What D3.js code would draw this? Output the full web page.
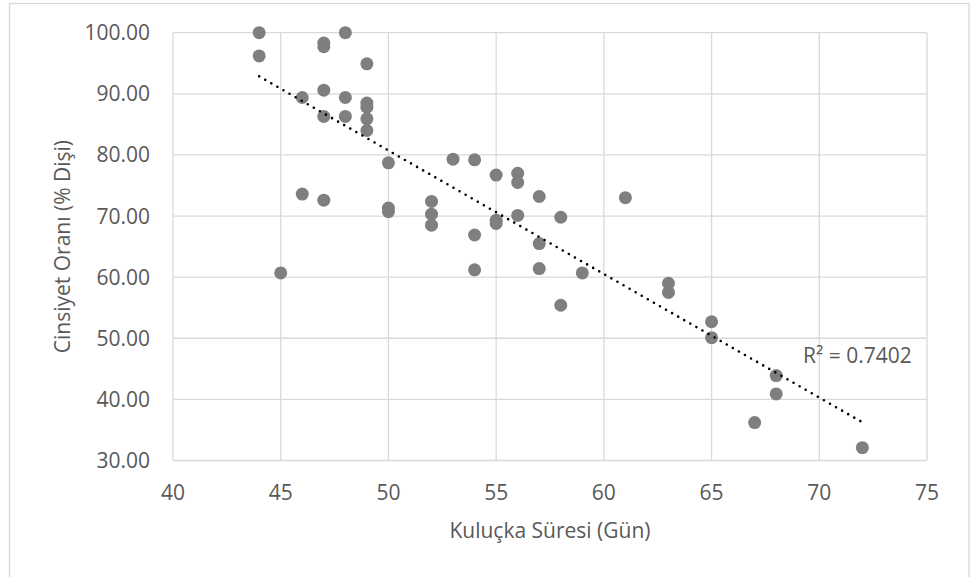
<!DOCTYPE html>
<html>
<head>
<meta charset="utf-8">
<script src="https://cdn.jsdelivr.net/npm/d3@7"></script>
<style>
  body { margin: 0; background: #fff; }
  svg { display: block; font-family: "Open Sans", sans-serif; }
  .tick-label { fill: #595959; font-size: 21px; }
  .axis-title { fill: #595959; font-size: 21px; }
</style>
</head>
<body>
<svg id="chart" width="972" height="577"></svg>
<script>
// incubation period (days) and sex ratio (% female)
var days = [44, 44, 45, 46, 46, 47, 47, 47, 47, 47, 48, 48, 48,
            49, 49, 49, 49, 49, 50, 50, 50, 52, 52, 52, 53,
            54, 54, 54, 55, 55, 55, 56, 56, 56, 57, 57, 57,
            58, 58, 59, 61, 63, 63, 65, 65, 67, 68, 68, 72];
var femalePct = [100.0, 96.2, 60.7, 89.4, 73.6, 98.3, 97.7, 90.6, 86.3, 72.6, 100.0, 89.4, 86.3,
                 94.9, 88.5, 87.8, 85.9, 84.0, 78.7, 71.3, 70.7, 72.4, 70.3, 68.5, 79.3,
                 79.2, 66.9, 61.2, 76.7, 69.3, 68.8, 77.0, 75.5, 70.1, 73.2, 65.5, 61.4,
                 69.8, 55.4, 60.7, 73.0, 59.0, 57.5, 52.7, 50.1, 36.2, 43.9, 40.9, 32.1];

var xTicks = [40, 45, 50, 55, 60, 65, 70, 75];
var yTicks = [30, 40, 50, 60, 70, 80, 90, 100];
var r2Text = "R² = 0.7402";

var svg = d3.select('#chart');
var margin = { top: 32.7, right: 45, bottom: 116.5, left: 173 };
var width = 972 - margin.left - margin.right;
var height = 577 - margin.top - margin.bottom;

var x = d3.scaleLinear().domain([40, 75]).range([0, width]);
var y = d3.scaleLinear().domain([30, 100]).range([height, 0]);

// outer chart border
svg.append('rect')
    .attr('x', 9.5).attr('y', 3.5)
    .attr('width', 959.5).attr('height', 590)
    .attr('fill', 'none')
    .attr('stroke', '#d9d9d9')
    .attr('stroke-width', 1.3);

var g = svg.append('g')
    .attr('transform', `translate(${margin.left},${margin.top})`);

// gridlines
g.selectAll('.vgrid')
    .data(xTicks)
    .join('line')
    .classed('vgrid', true)
    .attr('x1', d => x(d)).attr('x2', d => x(d))
    .attr('y1', 0).attr('y2', height)
    .attr('stroke', '#d9d9d9')
    .attr('stroke-width', 1.3);

g.selectAll('.hgrid')
    .data(yTicks)
    .join('line')
    .classed('hgrid', true)
    .attr('x1', 0).attr('x2', width)
    .attr('y1', d => y(d)).attr('y2', d => y(d))
    .attr('stroke', '#d9d9d9')
    .attr('stroke-width', 1.3);

// tick labels
g.selectAll('.xlab')
    .data(xTicks)
    .join('text')
    .attr('class', 'tick-label')
    .attr('x', d => x(d))
    .attr('y', height + 39.5)
    .attr('text-anchor', 'middle')
    .text(d => d);

g.selectAll('.ylab')
    .data(yTicks)
    .join('text')
    .attr('class', 'tick-label')
    .attr('x', -23)
    .attr('y', d => y(d) + 7.5)
    .attr('text-anchor', 'end')
    .text(d => d3.format('.2f')(d));

// axis titles
svg.append('text')
    .attr('class', 'axis-title')
    .attr('x', margin.left + width / 2)
    .attr('y', 538)
    .attr('text-anchor', 'middle')
    .text('Kuluçka Süresi (Gün)');

svg.append('text')
    .attr('class', 'axis-title')
    .attr('transform', `translate(70,${margin.top + height / 2}) rotate(-90)`)
    .attr('text-anchor', 'middle')
    .text('Cinsiyet Oranı (% Dişi)');

// points
var points = days.map((d, i) => ({ x: d, y: femalePct[i] }));

g.selectAll('.dot')
    .data(points)
    .join('circle')
    .classed('dot', true)
    .attr('cx', d => x(d.x))
    .attr('cy', d => y(d.y))
    .attr('r', 6.5)
    .attr('fill', '#7f7f7f');

// linear trend line (least squares)
var mx = d3.mean(points, d => d.x);
var my = d3.mean(points, d => d.y);
var slope = d3.sum(points, d => (d.x - mx) * (d.y - my)) / d3.sum(points, d => (d.x - mx) * (d.x - mx));
var icpt = my - slope * mx;
var xr = d3.extent(days);
var trend = xr.map(v => ({ x: v, y: icpt + slope * v }));

g.append('path')
    .datum(trend)
    .attr('d', d3.line().x(d => x(d.x)).y(d => y(d.y)))
    .attr('fill', 'none')
    .attr('stroke', '#000')
    .attr('stroke-width', 2.6)
    .attr('stroke-linecap', 'round')
    .attr('stroke-dasharray', '0 7');

svg.append('text')
    .attr('class', 'tick-label')
    .attr('x', 803)
    .attr('y', 362.5)
    .text(r2Text);
</script>
</body>
</html>
